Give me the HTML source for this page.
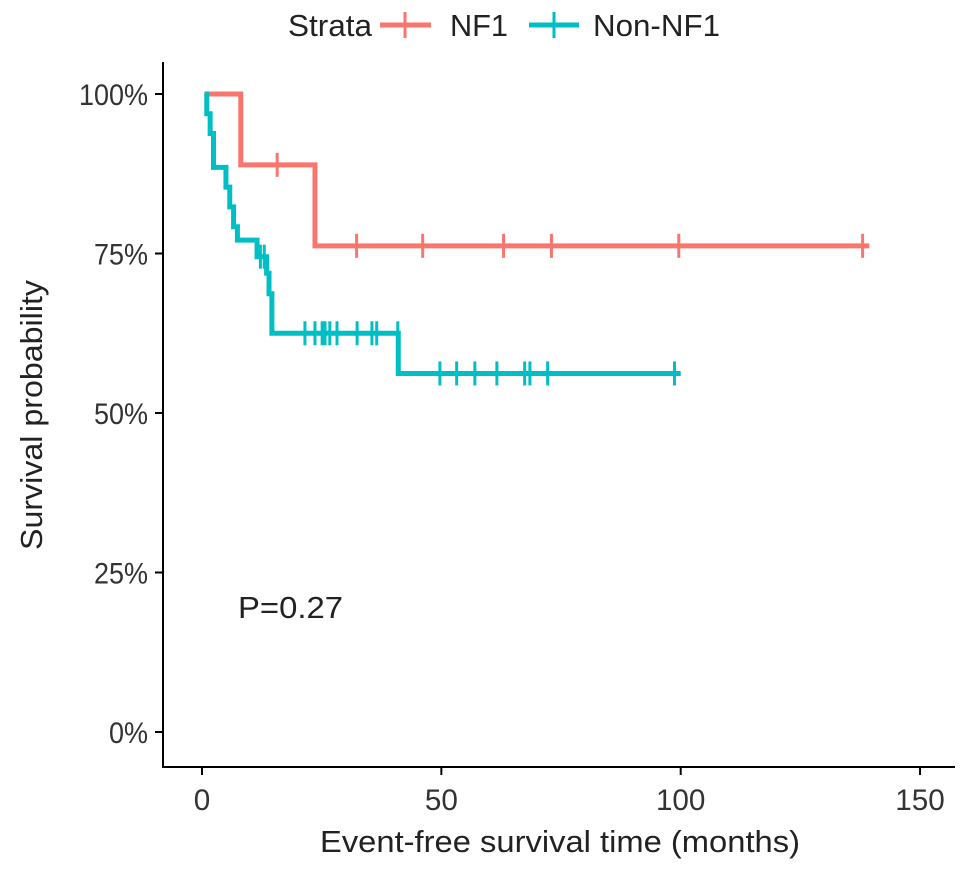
<!DOCTYPE html>
<html><head><meta charset="utf-8"><style>
body{margin:0;background:#fff}
svg{display:block;font-family:"Liberation Sans",Arial,sans-serif}
</style></head><body>
<svg id="chart" width="969" height="870" viewBox="0 0 969 870">
<g id="axes"></g><g id="plot"></g>
<g>
<text x="288" y="36" font-size="31" fill="#222" textLength="84" lengthAdjust="spacingAndGlyphs">Strata</text>
<g>
<line x1="380" y1="25" x2="431" y2="25" stroke="#F8766D" stroke-width="5"/><line x1="405" y1="12" x2="405" y2="38" stroke="#F8766D" stroke-width="3"/>
<text x="450" y="36" font-size="31" fill="#222" textLength="58" lengthAdjust="spacingAndGlyphs">NF1</text></g>
<g>
<line x1="529" y1="25" x2="579" y2="25" stroke="#00BFC4" stroke-width="5"/><line x1="554" y1="12" x2="554" y2="38" stroke="#00BFC4" stroke-width="3"/>
<text x="593" y="36" font-size="31" fill="#222" textLength="127" lengthAdjust="spacingAndGlyphs">Non-NF1</text></g>
</g>
<text x="238" y="618" font-size="31" fill="#222" textLength="105" lengthAdjust="spacingAndGlyphs">P=0.27</text>
<text x="320" y="852" font-size="31" fill="#222" textLength="480" lengthAdjust="spacingAndGlyphs">Event-free survival time (months)</text>
<text transform="translate(42,550) rotate(-90)" font-size="31" fill="#222" textLength="270" lengthAdjust="spacingAndGlyphs">Survival probability</text>
</svg>
<script>
const xTicks=[0,50,100,150];
const yTicks=[0,25,50,75,100];
const yTickLabels=["0%","25%","50%","75%","100%"];
const nf1Start=0.5;
const nf1EventTimes=[8.1,23.6];
const nf1EventSurv=[88.9,76.2];
const nf1End=139.4;
const nf1CensorTimes=[15.7,32.3,46.1,63,73,99.6,138];
const nonStart=0.6;
const nonEventTimes=[1.0,1.7,2.4,5.0,5.8,6.6,7.4,11.5,13.5,14.0,14.6,41.0];
const nonEventSurv=[96.9,93.8,88.5,85.4,82.3,79.2,77.1,74.5,71.9,68.7,62.5,56.2];
const nonEnd=100;
const nonCensorTimes=[12.2,13.0,21.5,23.6,25.1,25.7,26.7,28.2,32.4,35.5,36.5,40.9,49.7,53.2,57.0,61.6,67.4,68.5,72.2,98.7];

const X=t=>202+t*4.787;
const Y=s=>732-s*6.38;
const NS="http://www.w3.org/2000/svg";
function mk(tag,attrs,parent){const e=document.createElementNS(NS,tag);for(const k in attrs)e.setAttribute(k,attrs[k]);parent.appendChild(e);return e;}
const axes=document.getElementById('axes'),plot=document.getElementById('plot');
const ya=mk('line',{x1:163,y1:62,x2:163,y2:768,stroke:'#000','stroke-width':2},axes);


const xa=mk('line',{x1:162,y1:767,x2:955,y2:767,stroke:'#000','stroke-width':2},axes);


xTicks.forEach(t=>{
 const l=mk('line',{x1:X(t),y1:767,x2:X(t),y2:775,stroke:'#000','stroke-width':2},axes);
 
 
 const tx=mk('text',{x:X(t),y:810,'font-size':30,fill:'#333','text-anchor':'middle',textLength:String(t).length*16.5,lengthAdjust:'spacingAndGlyphs'},axes);tx.textContent=t;
 
 
});
yTicks.forEach((s,i)=>{
 const l=mk('line',{x1:155,y1:Y(s),x2:163,y2:Y(s),stroke:'#000','stroke-width':2},axes);
 
 
 const lab=yTickLabels[i];
 const tx=mk('text',{x:148,y:Y(s)+11,'font-size':30,fill:'#333','text-anchor':'end',textLength:(lab.length-1)*15+24,lengthAdjust:'spacingAndGlyphs'},axes);tx.textContent=lab;
 
 
});
function survAt(t,times,surv){let s=100;for(let i=0;i<times.length;i++)if(times[i]<=t)s=surv[i];return s;}
function curve(start,times,surv,end,censors,color,name){
 let d=`M${X(start)},${Y(100)}`;
 times.forEach((t,i)=>{d+=` H${X(t)} V${Y(surv[i])}`;});
 d+=` H${X(end)}`;
 const p=mk('path',{d:d,fill:'none',stroke:color,'stroke-width':5},plot);
 
 
 censors.forEach(t=>{const yy=Y(survAt(t,times,surv));
  const c=mk('line',{x1:X(t),y1:yy-12,x2:X(t),y2:yy+12,stroke:color,'stroke-width':3},plot);
  
  
 });
}
curve(nf1Start,nf1EventTimes,nf1EventSurv,nf1End,nf1CensorTimes,'#F8766D','nf1');
curve(nonStart,nonEventTimes,nonEventSurv,nonEnd,nonCensorTimes,'#00BFC4','non-nf1');
</script>
</body></html>
